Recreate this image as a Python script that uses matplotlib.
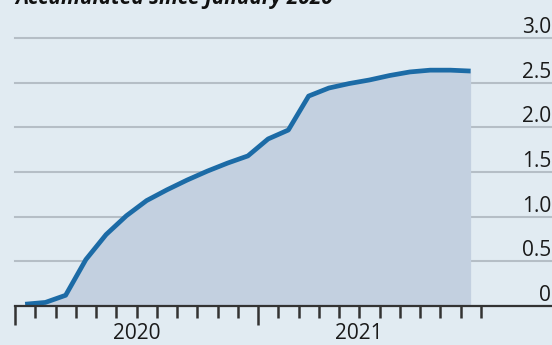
import matplotlib.pyplot as plt
import numpy as np

# Months since 1 January 2020 (mid-month readings)
months = np.arange(0.5, 23, 1.0)
accumulated = [0.02, 0.04, 0.12, 0.52, 0.80, 1.01, 1.18, 1.30, 1.41, 1.51,
               1.60, 1.68, 1.87, 1.97, 2.35, 2.44, 2.49, 2.53, 2.58, 2.62,
               2.64, 2.64, 2.63]

y_ticks = [0, 0.5, 1.0, 1.5, 2.0, 2.5, 3.0]
y_tick_labels = ['0', '0.5', '1.0', '1.5', '2.0', '2.5', '3.0']
year_labels = ['2020', '2021']
year_label_pos = [6, 17]

BG = '#e1ebf2'
FILL = '#c3d0e0'
LINE = '#1c6ba6'
GRID = '#b5bec6'
AXIS = '#333333'

W, H = 552, 345
fig = plt.figure(figsize=(W / 100, H / 100), dpi=100)
fig.patch.set_facecolor(BG)

# axes spans x from 15px to right edge, y from 306px (0) to 38px (3.0)
ax = fig.add_axes([15 / W, (H - 306) / H, 1 - 15 / W, (306 - 38) / H])
ax.set_facecolor(BG)
ax.set_xlim(0, (W - 15) / 20.25)
ax.set_ylim(0, 3.0)

for s in ax.spines.values():
    s.set_visible(False)

# gridlines with labels sitting just above them on the right
for v, lab in zip(y_ticks, y_tick_labels):
    if v > 0:
        ax.axhline(v, color=GRID, lw=1.5, zorder=1, clip_on=False)
    ax.annotate(lab, xy=(1.0, v), xycoords=('axes fraction', 'data'),
                xytext=(-1, 5), textcoords='offset pixels',
                ha='right', va='baseline', fontsize=15, color='#1a1a1a',
                family=['Open Sans', 'DejaVu Sans'])

ax.fill_between(months, accumulated, 0, color=FILL, lw=0, zorder=2)
ax.plot(months, accumulated, color=LINE, lw=3.4, solid_capstyle='butt',
        solid_joinstyle='round', zorder=3)

ax.axhline(0, color=AXIS, lw=1.6, zorder=4, clip_on=False)

ax.set_xticks([0, 12])
ax.set_xticks([m for m in range(1, 24) if m != 12], minor=True)
ax.tick_params(axis='x', which='major', length=14, width=1.8, color=AXIS,
               labelbottom=False, direction='out')
ax.tick_params(axis='x', which='minor', length=8.5, width=1.8, color=AXIS,
               direction='out')
ax.set_yticks([])

for lab, pos in zip(year_labels, year_label_pos):
    ax.annotate(lab, xy=(pos, 0), xycoords='data', xytext=(0, -17),
                textcoords='offset pixels', ha='center', va='top',
                fontsize=15, color='#1a1a1a',
                family=['Open Sans', 'DejaVu Sans'])

# heading, mostly cut off by the top edge
fig.text(15 / W, 1 - 4 / H, 'Accumulated since January 2020',
         ha='left', va='baseline', fontsize=15, fontweight='bold',
         fontstyle='italic', color='#111111',
         family=['Open Sans', 'DejaVu Sans'])

fig.savefig('out.png', dpi=100, facecolor=BG)
